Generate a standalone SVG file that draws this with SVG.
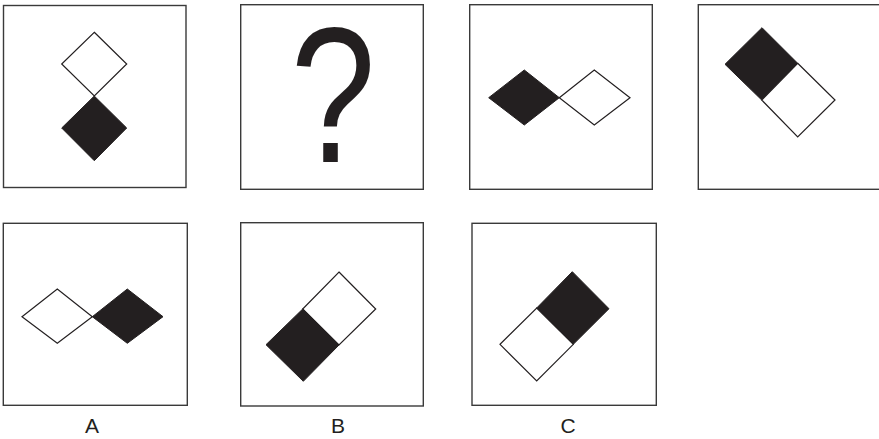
<svg xmlns="http://www.w3.org/2000/svg" width="879" height="439" viewBox="0 0 879 439">
<style>
.box{fill:#fff;stroke:#3a3a3a;stroke-width:1.4}
.w{fill:#fff;stroke:#231f20;stroke-width:1.2;stroke-linejoin:miter}
.b{fill:#231f20;stroke:#231f20;stroke-width:1}
.lbl{font-family:"Liberation Sans",Arial,sans-serif;font-size:21px;fill:#231f20;text-anchor:middle}
</style>
<rect width="879" height="439" fill="#fff"/>
<g id="panel1">
<rect class="box" x="3.5" y="5.5" width="182.5" height="182"/>
<polygon class="w" points="94.3,32.3 126.7,64 94.3,96 61.7,64"/>
<polygon class="b" points="94.3,96 126.7,128 94.3,160.7 61.7,128"/>
</g>
<g id="panel2">
<rect class="box" x="240.7" y="4.7" width="182.6" height="184.6"/>
<text transform="translate(333,162) scale(0.87,1.1)" x="0" y="0" style="font-family:'Liberation Sans',Arial,sans-serif;font-size:176px;fill:#231f20;text-anchor:middle">?</text>
</g>
<g id="panel3">
<rect class="box" x="469.7" y="4.7" width="182.6" height="184.6"/>
<polygon class="b" points="488.7,97.7 524.3,70 559.3,97.7 524.3,125"/>
<polygon class="w" points="559.3,97.7 594.3,70 630,97.7 594.3,125"/>
</g>
<g id="panel4">
<rect class="box" x="698.3" y="4.7" width="183" height="184.6"/>
<polygon class="b" points="762,27.7 797.7,63.3 761.7,100 725,64.3"/>
<polygon class="w" points="797.7,63.3 835,100 797.7,137 761.7,100"/>
</g>
<g id="optionA">
<rect class="box" x="3.3" y="223.3" width="184" height="182"/>
<polygon class="w" points="22,316.7 57.3,289 92.3,316.7 57.3,343.3"/>
<polygon class="b" points="92.3,316.7 127.3,289 163,316.7 127.3,343.3"/>
<text class="lbl" x="92" y="433">A</text>
</g>
<g id="optionB">
<rect class="box" x="240.7" y="222.7" width="182.6" height="183.3"/>
<polygon class="w" points="339,272 375.7,309 339,345 302.7,309"/>
<polygon class="b" points="302.7,309 339,345 303.3,381.3 266,344.7"/>
<text class="lbl" x="338" y="433">B</text>
</g>
<g id="optionC">
<rect class="box" x="472" y="223.3" width="184.3" height="182"/>
<polygon class="b" points="572.3,271.7 609,308.7 573.3,344.3 536.7,308"/>
<polygon class="w" points="536.7,308 573.3,344.3 536.7,381 500,344.3"/>
<text class="lbl" x="568" y="433">C</text>
</g>
<g id="connectors"/>
</svg>
